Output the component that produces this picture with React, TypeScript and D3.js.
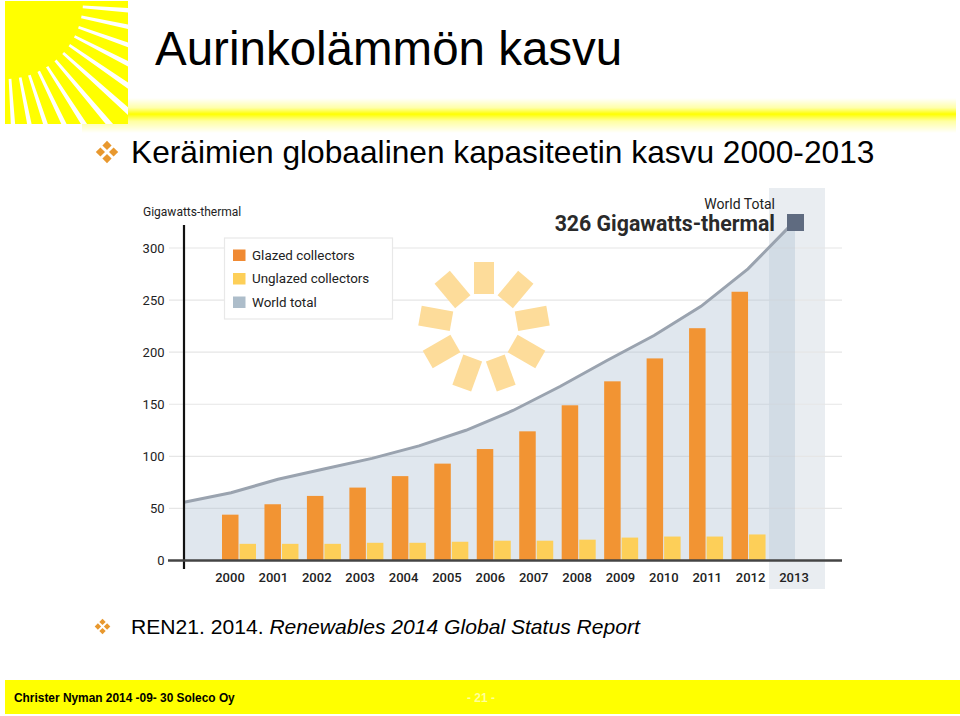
import React, { useRef, useEffect } from 'react';
import * as d3 from 'd3';

const years = [2000, 2001, 2002, 2003, 2004, 2005, 2006, 2007, 2008, 2009, 2010, 2011, 2012, 2013];
const barYears = years.slice(0, 13);
const glazed = [44, 54, 62, 70, 81, 93, 107, 124, 149, 172, 194, 223, 258];
const unglazed = [16, 16, 16, 17, 17, 18, 19, 19, 20, 22, 23, 23, 25];
const worldTotal = [56, 65, 78, 88, 98, 110, 125, 144, 167, 192, 216, 244, 280, 326];
const yTicks = [0, 50, 100, 150, 200, 250, 300];
const legendItems = [
  { label: 'Glazed collectors', color: '#f08a33' },
  { label: 'Unglazed collectors', color: '#fdcf58' },
  { label: 'World total', color: '#adbdca' },
];
const petalAngles = [0, 40, 80, 120, 160, 200, 240, 280, 320];
const rayAngles = [4.3, 11.8, 19.6, 27, 34.5, 41.8, 49.7, 57.3, 64.4, 71.8, 78.8, 86.3];

const CHART_FONT = 'Roboto, sans-serif';
const SLIDE_FONT = '"Liberation Sans", Arial, sans-serif';

const App = () => {
  const container = useRef<SVGSVGElement | null>(null);

  useEffect(() => {
    if (!container.current) return;
    const svg = d3.select(container.current);
    svg.selectAll('*').remove();

    const defs = svg.append('defs');
    const grad = defs.append('linearGradient').attr('id', 'band').attr('x1', 0).attr('x2', 0).attr('y1', 0).attr('y2', 1);
    grad.append('stop').attr('offset', '0%').attr('stop-color', '#ffffff');
    grad.append('stop').attr('offset', '28%').attr('stop-color', '#ffffa8');
    grad.append('stop').attr('offset', '46%').attr('stop-color', '#ffff00');
    grad.append('stop').attr('offset', '66%').attr('stop-color', '#ffffa0');
    grad.append('stop').attr('offset', '100%').attr('stop-color', '#ffffff');
    defs.append('clipPath').attr('id', 'logo').append('rect')
      .attr('x', 5).attr('y', 1).attr('width', 123).attr('height', 123);

    // slide furniture
    svg.append('rect').attr('x', 82).attr('y', 98).attr('width', 874).attr('height', 35).attr('fill', 'url(#band)');
    svg.append('rect').attr('x', 5).attr('y', 1).attr('width', 123).attr('height', 123).attr('fill', '#ffff00');

    const rayArc = d3.arc<number>()
      .innerRadius(78)
      .outerRadius(200)
      .startAngle(d => ((90 + d - 1) * Math.PI) / 180)
      .endAngle(d => ((90 + d + 1) * Math.PI) / 180);
    svg.append('g')
      .attr('clip-path', 'url(#logo)')
      .append('g')
      .attr('transform', 'translate(5,1)')
      .selectAll('path')
      .data(rayAngles)
      .join('path')
      .attr('d', d => rayArc(d))
      .attr('fill', '#fff');

    svg.append('text').attr('x', 155).attr('y', 65)
      .style('font-family', SLIDE_FONT).style('font-size', '47.5px').attr('fill', '#000')
      .text('Aurinkolämmön kasvu');

    const bullet = (cx: number, cy: number, size: number, off: number) => {
      const g = svg.append('g').attr('fill', '#e8982e');
      [[0, -off], [off, 0], [0, off], [-off, 0]].forEach(([dx, dy]) => {
        const x = cx + dx;
        const y = cy + dy;
        g.append('path').attr('d', `M${x},${y - size}L${x + size},${y}L${x},${y + size}L${x - size},${y}Z`);
      });
    };
    bullet(107, 152, 4.6, 6.6);
    bullet(102.5, 626.5, 3.2, 4.6);

    svg.append('text').attr('x', 131).attr('y', 163)
      .style('font-family', SLIDE_FONT).style('font-size', '31.7px').attr('fill', '#000')
      .text('Keräimien globaalinen kapasiteetin kasvu 2000-2013');

    const source = svg.append('text').attr('x', 131).attr('y', 634)
      .style('font-family', SLIDE_FONT).style('font-size', '21.1px').attr('fill', '#000');
    source.append('tspan').text('REN21. 2014. ');
    source.append('tspan').style('font-style', 'italic').text('Renewables 2014 Global Status Report');

    svg.append('rect').attr('x', 5).attr('y', 680).attr('width', 955).attr('height', 34).attr('fill', '#ffff00');
    svg.append('text').attr('x', 14).attr('y', 702)
      .style('font-family', SLIDE_FONT).style('font-size', '11.9px').style('font-weight', 700).attr('fill', '#000')
      .text('Christer Nyman 2014 -09- 30 Soleco Oy');
    svg.append('text').attr('x', 481).attr('y', 702).attr('text-anchor', 'middle')
      .style('font-family', SLIDE_FONT).style('font-size', '12px').style('font-weight', 700).attr('fill', '#ffff99')
      .text('- 21 -');

    // chart scales
    const y = d3.scaleLinear().domain([0, 300]).range([560.5, 248]);
    const xBar = d3.scaleBand<number>().domain(barYears).range([217, 769]).paddingInner(0);
    const xLine = d3.scalePoint<number>().domain(years).range([184, 795]);
    const xLabel = d3.scalePoint<number>().domain(years).range([230, 794]);
    const barW = 16.5;

    // 2013 highlight
    svg.append('rect').attr('x', 769).attr('y', 188).attr('width', 56).attr('height', 401).attr('fill', '#e9edf1');

    // gridlines
    svg.append('g').selectAll('line')
      .data(yTicks.filter(d => d > 0))
      .join('line')
      .attr('x1', 169).attr('x2', 842)
      .attr('y1', d => y(d)).attr('y2', d => y(d))
      .attr('stroke', '#e6e6e6').attr('stroke-width', 1.2);

    // petals
    svg.append('g').attr('transform', 'translate(484,327)')
      .selectAll('rect')
      .data(petalAngles)
      .join('rect')
      .attr('x', -10).attr('y', -65).attr('width', 20).attr('height', 32)
      .attr('transform', d => `rotate(${d})`)
      .attr('fill', '#fddc9a');

    // world total area + line
    const area = d3.area<number>()
      .x((_, i) => xLine(years[i]) as number)
      .y0(y(0))
      .y1(d => y(d));
    svg.append('path').datum(worldTotal).attr('d', area).attr('fill', '#adbfd3').attr('fill-opacity', 0.38);

    const line = d3.line<number>()
      .x((_, i) => xLine(years[i]) as number)
      .y(d => y(d));
    svg.append('path').datum(worldTotal).attr('d', line)
      .attr('fill', 'none').attr('stroke', '#9aa3af').attr('stroke-width', 3);

    // bars
    svg.append('g').selectAll('rect')
      .data(glazed)
      .join('rect')
      .attr('x', (_, i) => (xBar(barYears[i]) as number) + 5)
      .attr('width', barW)
      .attr('y', d => y(d))
      .attr('height', d => y(0) - y(d))
      .attr('fill', '#f29433');
    svg.append('g').selectAll('rect')
      .data(unglazed)
      .join('rect')
      .attr('x', (_, i) => (xBar(barYears[i]) as number) + 5 + barW + 1)
      .attr('width', barW)
      .attr('y', d => y(d))
      .attr('height', d => y(0) - y(d))
      .attr('fill', '#fdcf58');

    // axes
    svg.append('line').attr('x1', 184).attr('x2', 184).attr('y1', 225).attr('y2', 569)
      .attr('stroke', '#111').attr('stroke-width', 2.2);
    svg.append('line').attr('x1', 168).attr('x2', 842).attr('y1', 560.5).attr('y2', 560.5)
      .attr('stroke', '#444').attr('stroke-width', 2.4);

    const chartText = (sel: d3.Selection<any, any, any, any>) =>
      sel.style('font-family', CHART_FONT).style('font-weight', 400).attr('fill', '#222');

    svg.append('g').selectAll('text')
      .data(yTicks)
      .join('text')
      .attr('x', 164.5)
      .attr('y', d => y(d) + 4.5)
      .attr('text-anchor', 'end')
      .style('font-size', '13px')
      .call(chartText)
      .text(d => d);

    svg.append('g').selectAll('text')
      .data(years)
      .join('text')
      .attr('x', d => xLabel(d) as number)
      .attr('y', 581.5)
      .attr('text-anchor', 'middle')
      .style('font-size', '13px')
      .style('font-weight', 500)
      .call(sel => sel.style('font-family', CHART_FONT).attr('fill', '#222'))
      .text(d => d);

    svg.append('text').attr('x', 143).attr('y', 216)
      .style('font-size', '12px').call(chartText).text('Gigawatts-thermal');

    // legend
    svg.append('rect').attr('x', 224.5).attr('y', 238).attr('width', 168).attr('height', 81)
      .attr('fill', '#fff').attr('stroke', '#e8e8e8').attr('stroke-width', 1.2);
    const legend = svg.append('g').selectAll('g')
      .data(legendItems)
      .join('g')
      .attr('transform', (_, i) => `translate(233,${249.5 + i * 23.5})`);
    legend.append('rect').attr('width', 12.5).attr('height', 11.5).attr('fill', d => d.color);
    legend.append('text').attr('x', 19).attr('y', 10)
      .style('font-size', '13.4px').call(chartText).text(d => d.label);

    // 2013 callout
    svg.append('rect').attr('x', 787).attr('y', 214).attr('width', 17).attr('height', 17).attr('fill', '#5f6b80');
    svg.append('text').attr('x', 775).attr('y', 209).attr('text-anchor', 'end')
      .style('font-size', '14px').call(chartText).text('World Total');
    svg.append('text').attr('x', 775).attr('y', 231).attr('text-anchor', 'end')
      .style('font-size', '21.3px').style('font-family', CHART_FONT).style('font-weight', 700).attr('fill', '#2a2a2a')
      .text('326 Gigawatts-thermal');
  }, []);

  return (
    <svg
      ref={container}
      width={960}
      height={716}
      style={{ position: 'absolute', left: 0, top: 0, background: '#fff' }}
    />
  );
};

export default App;
